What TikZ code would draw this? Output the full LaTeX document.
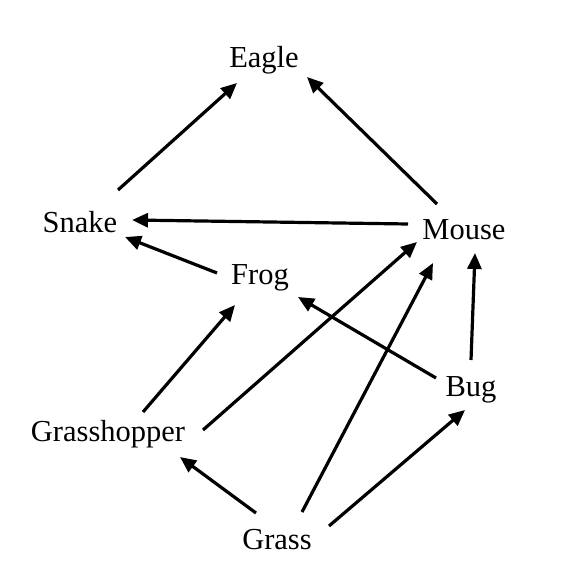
\documentclass[tikz,border=0pt]{standalone}
\usepackage{fontspec}
\setmainfont{Liberation Serif}
\usetikzlibrary{arrows.meta}
\begin{document}
\begin{tikzpicture}[x=1pt,y=-1pt,
  lbl/.style={font=\fontsize{30.5}{32}\selectfont, inner sep=0pt},
  link/.style={line width=3.2pt, -{Triangle[length=16pt,width=14pt]}}]
\useasboundingbox (0,0) rectangle (568,569);
\node[lbl] (eagle) at (264,60) {Eagle};
\node[lbl] (snake) at (80,222) {Snake};
\node[lbl] (mouse) at (464,230) {Mouse};
\node[lbl] (frog) at (260,278) {Frog};
\node[lbl] (bug) at (471,390) {Bug};
\node[lbl] (hopper) at (108,434) {Grasshopper};
\node[lbl] (grass) at (277,540) {Grass};
\draw[link] ([shift={(38,-32)}]snake.center) -- ([shift={(-27,23)}]eagle.center);
\draw[link] ([shift={(-27,-26)}]mouse.center) -- ([shift={(43,17)}]eagle.center);
\draw[link] ([shift={(-56,-6)}]mouse.center) -- ([shift={(52,-2)}]snake.center);
\draw[link] ([shift={(-43,-5)}]frog.center) -- ([shift={(45,15)}]snake.center);
\draw[link] ([shift={(35,-22)}]hopper.center) -- ([shift={(-25,27)}]frog.center);
\draw[link] ([shift={(95,-4)}]hopper.center) -- ([shift={(-47,12)}]mouse.center);
\draw[link] ([shift={(25,-28)}]grass.center) -- ([shift={(-31,33)}]mouse.center);
\draw[link] ([shift={(0,-30)}]bug.center) -- ([shift={(11,23)}]mouse.center);
\draw[link] ([shift={(-35,-12)}]bug.center) -- ([shift={(38,19)}]frog.center);
\draw[link] ([shift={(-21,-27)}]grass.center) -- ([shift={(72,23)}]hopper.center);
\draw[link] ([shift={(52,-14)}]grass.center) -- ([shift={(-6,20)}]bug.center);
\end{tikzpicture}
\end{document}
